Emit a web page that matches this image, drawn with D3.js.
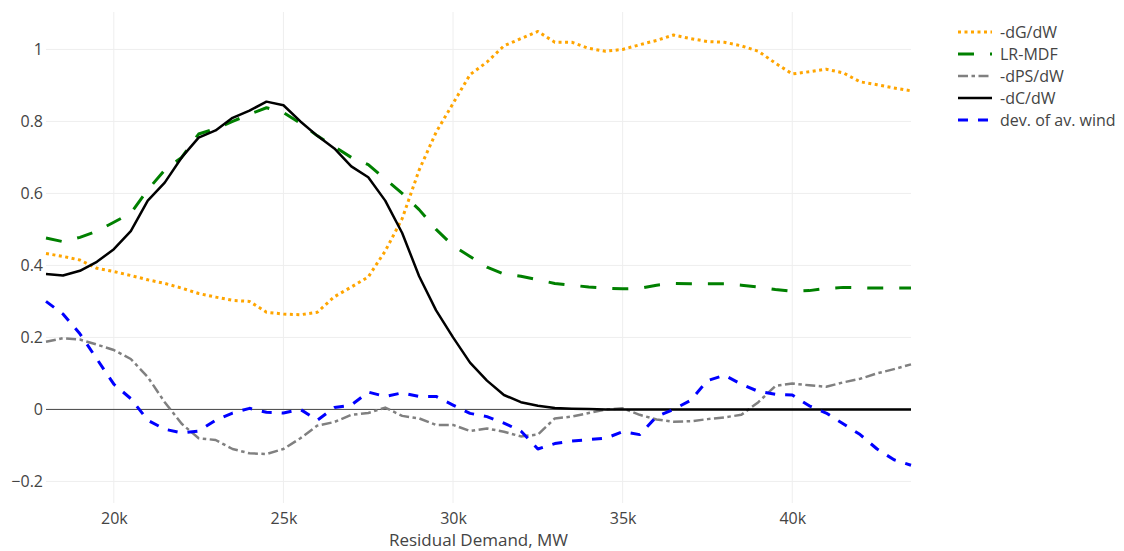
<!DOCTYPE html>
<html lang="en">

<head>
    <meta charset="UTF-8">
    <title>Residual Demand</title>
    <script src="https://d3js.org/d3.v7.min.js"></script>
    <style>
        body {
            margin: 0;
            background: #fff;
        }

        text {
            font-family: "Open Sans", Verdana, Arial, sans-serif;
            fill: #444;
        }

        .grid line {
            stroke: #eee;
            stroke-width: 1px;
        }

        .trace {
            fill: none;
            stroke-linejoin: round;
        }
    </style>
</head>

<body>
    <svg></svg>
</body>

<script>
    // Residual demand (MW), one sample every 500 MW
    const demand = d3.range(18000, 43501, 500);

    const dG = [0.433, 0.425, 0.415, 0.392, 0.383, 0.372, 0.36, 0.35, 0.337, 0.322,
        0.312, 0.303, 0.30, 0.27, 0.265, 0.263, 0.27, 0.313, 0.34, 0.368,
        0.44, 0.53, 0.665, 0.77, 0.85, 0.93, 0.965, 1.01, 1.03, 1.05,
        1.02, 1.02, 1.003, 0.995, 1.0, 1.013, 1.025, 1.04, 1.03, 1.022,
        1.02, 1.01, 0.995, 0.962, 0.932, 0.938, 0.945, 0.935, 0.91, 0.902,
        0.893, 0.885];

    const lrMdf = [0.476, 0.466, 0.478, 0.495, 0.52, 0.545, 0.61, 0.665, 0.70, 0.765,
        0.78, 0.80, 0.82, 0.838, 0.825, 0.795, 0.76, 0.73, 0.70, 0.68,
        0.64, 0.60, 0.555, 0.50, 0.455, 0.425, 0.395, 0.376, 0.37, 0.36,
        0.35, 0.345, 0.34, 0.337, 0.335, 0.336, 0.345, 0.35, 0.349, 0.349,
        0.349, 0.345, 0.34, 0.333, 0.328, 0.33, 0.336, 0.339, 0.338, 0.337,
        0.337, 0.337];

    const dPS = [0.188, 0.198, 0.194, 0.18, 0.165, 0.14, 0.09, 0.02, -0.04, -0.08,
        -0.085, -0.11, -0.122, -0.124, -0.11, -0.08, -0.045, -0.035, -0.015, -0.01,
        0.005, -0.018, -0.025, -0.043, -0.043, -0.06, -0.053, -0.062, -0.075, -0.07,
        -0.025, -0.02, -0.01, 0.0, 0.003, -0.015, -0.028, -0.034, -0.033, -0.027,
        -0.022, -0.015, 0.02, 0.065, 0.072, 0.067, 0.063, 0.075, 0.085, 0.1,
        0.112, 0.125];

    const dC = [0.376, 0.372, 0.385, 0.41, 0.445, 0.495, 0.58, 0.63, 0.70, 0.755,
        0.775, 0.81, 0.83, 0.855, 0.845, 0.80, 0.76, 0.725, 0.675, 0.645,
        0.58, 0.49, 0.37, 0.275, 0.20, 0.13, 0.08, 0.04, 0.02, 0.01,
        0.004, 0.002, 0.001, 0, 0, 0, 0, 0, 0, 0,
        0, 0, 0, 0, 0, 0, 0, 0, 0, 0,
        0, 0];

    const wind = [0.30, 0.265, 0.21, 0.14, 0.07, 0.03, -0.03, -0.055, -0.065, -0.06,
        -0.03, -0.01, 0.003, -0.008, -0.01, 0.0, -0.03, 0.005, 0.012, 0.048,
        0.036, 0.046, 0.036, 0.036, 0.012, -0.011, -0.02, -0.038, -0.06, -0.11,
        -0.095, -0.088, -0.084, -0.08, -0.062, -0.07, -0.02, 0.0, 0.025, 0.08,
        0.095, 0.07, 0.05, 0.042, 0.04, 0.01, -0.01, -0.04, -0.07, -0.11,
        -0.14, -0.155];

    const xTicks = [20000, 25000, 30000, 35000, 40000];
    const yTicks = [-0.2, 0, 0.2, 0.4, 0.6, 0.8, 1];

    const series = [
        { name: "-dG/dW", values: dG, color: "#FFA500", width: 3, dash: "3,3.5" },
        { name: "LR-MDF", values: lrMdf, color: "#008000", width: 3, dash: "16,16" },
        { name: "-dPS/dW", values: dPS, color: "#808080", width: 2.5, dash: "10,3.5,3.5,3.5" },
        { name: "-dC/dW", values: dC, color: "#000000", width: 2.5, dash: null },
        { name: "dev. of av. wind", values: wind, color: "#0000FF", width: 3, dash: "10,10" }
    ];

    const W = 1124, H = 551;
    const plot = { left: 46, right: 911, top: 12, bottom: 503 };

    const svg = d3.select("svg")
        .attr("width", W)
        .attr("height", H);

    const x = d3.scaleLinear()
        .domain([18000, 43500])
        .range([plot.left, plot.right]);

    const y = d3.scaleLinear()
        .domain([-0.26, 1.104])
        .range([plot.bottom, plot.top]);

    // Grid
    const grid = svg.append("g").attr("class", "grid");
    grid.selectAll(".vx")
        .data(xTicks)
        .enter().append("line")
        .attr("x1", d => x(d)).attr("x2", d => x(d))
        .attr("y1", plot.top).attr("y2", plot.bottom);
    grid.selectAll(".hy")
        .data(yTicks.filter(d => d !== 0))
        .enter().append("line")
        .attr("x1", plot.left).attr("x2", plot.right)
        .attr("y1", d => y(d)).attr("y2", d => y(d));

    // Zero line
    svg.append("line")
        .attr("x1", plot.left).attr("x2", plot.right)
        .attr("y1", y(0)).attr("y2", y(0))
        .attr("stroke", "#444")
        .attr("stroke-width", 1);

    // Axes (labels only, no domain lines)
    const xAxis = svg.append("g")
        .attr("transform", `translate(0,${plot.bottom})`)
        .call(d3.axisBottom(x).tickValues(xTicks).tickSize(0).tickPadding(10)
            .tickFormat(d => (d / 1000) + "k"));
    const yAxis = svg.append("g")
        .attr("transform", `translate(${plot.left},0)`)
        .call(d3.axisLeft(y).tickValues(yTicks).tickSize(0).tickPadding(3)
            .tickFormat(d => d === 0 ? "0" : d3.format("")(d).replace("-", "\u2212")));
    [xAxis, yAxis].forEach(g => {
        g.select(".domain").remove();
        g.selectAll("text").style("font-size", "16px").attr("fill", "#444");
    });

    svg.append("text")
        .attr("x", (plot.left + plot.right) / 2)
        .attr("y", 546)
        .attr("text-anchor", "middle")
        .style("font-size", "17px")
        .text("Residual Demand, MW");

    // Traces
    const line = d3.line()
        .x((d, i) => x(demand[i]))
        .y(d => y(d));

    svg.append("g")
        .selectAll("path")
        .data(series)
        .enter().append("path")
        .attr("class", "trace")
        .attr("d", d => line(d.values))
        .attr("stroke", d => d.color)
        .attr("stroke-width", d => d.width)
        .attr("stroke-dasharray", d => d.dash);

    // Legend
    const legend = svg.append("g")
        .attr("transform", "translate(958,32)");
    const item = legend.selectAll("g")
        .data(series)
        .enter().append("g")
        .attr("transform", (d, i) => `translate(0,${i * 22})`);
    item.append("line")
        .attr("x1", 0).attr("x2", 34)
        .attr("stroke", d => d.color)
        .attr("stroke-width", d => d.width)
        .attr("stroke-dasharray", d => d.dash);
    item.append("text")
        .attr("x", 42)
        .attr("dy", "0.35em")
        .style("font-size", "16px")
        .text(d => d.name);
</script>

</html>
